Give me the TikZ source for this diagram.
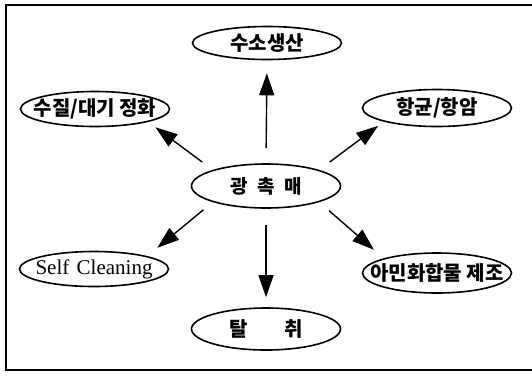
\documentclass[tikz,border=0pt]{standalone}
\usepackage{fontspec}
\setmainfont{Liberation Serif}
\newfontfamily\kr{Noto Sans CJK KR}
\usetikzlibrary{shapes.geometric,arrows.meta}
\newcommand{\zb}[1]{\makebox[0pt]{#1}}
\tikzset{
  oval/.style={ellipse, draw, line width=1.6pt, inner sep=0pt, minimum width=149pt, minimum height=#1},
  oval/.default=35pt,
  lab/.style={font=\kr\bfseries\fontsize{20}{20}\selectfont},
  arr/.style={line width=1.4pt, -{Triangle[length=22pt,width=15pt]}},
  frame/.style={line width=1.8pt}
}
\begin{document}
\begin{tikzpicture}[x=1pt,y=-1pt]
\useasboundingbox (0,0) rectangle (532,376);
\draw[frame] (532,5) -- (6,5) -- (6,370) -- (532,370);
\node[oval=44pt, font=\kr\bfseries\fontsize{19}{19}\selectfont] (c) at (266,186) {\zb{광\hspace{0.5em}촉\hspace{0.5em}매}};
\node[oval=33pt, lab] (h2) at (267,43) {\zb{수소생산}};
\node[oval=35pt, lab] (wa) at (95,109) {\zb{수질/대기 정화}};
\node[oval=37pt, lab] (ab) at (437,108) {\zb{항균/항암}};
\node[oval=35pt, font=\fontsize{21}{21}\selectfont] (sc) at (94,269) {\zb{Self\hspace{0.1em} Cleaning}};
\node[oval=40pt, lab] (am) at (437,273) {\zb{아민화합물 제조}};
\node[oval=42pt, lab] (de) at (266,329) {\zb{탈\hspace{1.8em}취}};
\draw[arr, shorten <=15pt, shorten >=13pt] (c.north) -- (h2.south);
\draw[arr, shorten <=13pt, shorten >=9pt] (c.north west) -- (wa.south east);
\draw[arr, shorten <=13pt, shorten >=7pt] (c.north east) -- (ab.south west);
\draw[arr, shorten <=12pt, shorten >=13pt] (c.south west) -- (sc.north east);
\draw[arr, shorten <=16pt, shorten >=10pt] (c.south) -- (de.north);
\draw[arr, shorten <=13pt, shorten >=13pt] (c.south east) -- (am.north west);
\end{tikzpicture}
\end{document}
